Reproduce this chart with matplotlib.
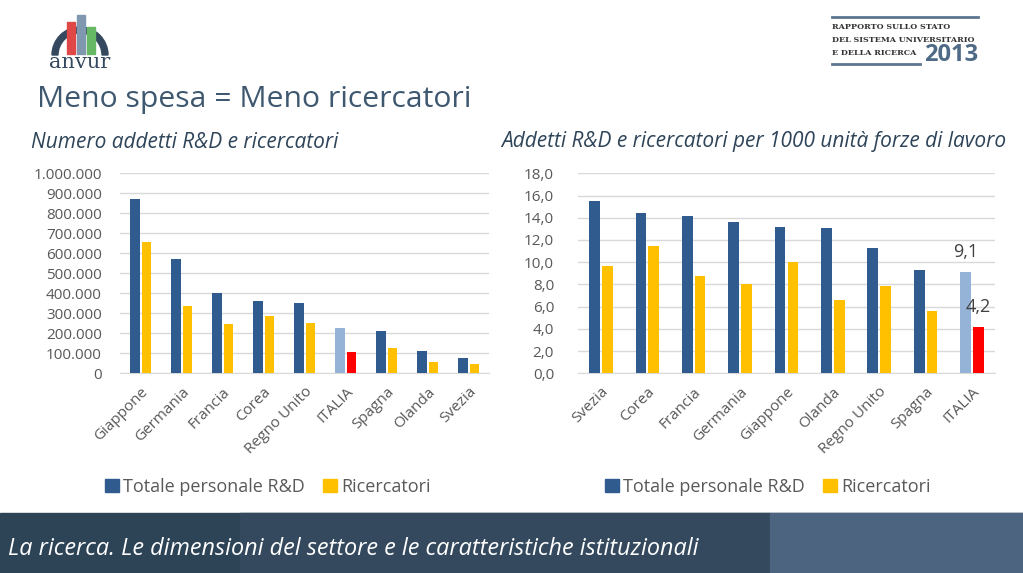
import numpy as np
import matplotlib.pyplot as plt
from matplotlib.patches import Rectangle, Wedge
from matplotlib.ticker import FuncFormatter

# left chart: absolute numbers
paesi_sx = ['Giappone', 'Germania', 'Francia', 'Corea', 'Regno Unito',
            'ITALIA', 'Spagna', 'Olanda', 'Svezia']
totale_sx = [870000, 573000, 400000, 360000, 353000, 227000, 212000, 113000, 75000]
ricerc_sx = [656000, 337000, 247000, 287000, 250000, 105000, 128000, 57000, 45000]

# right chart: per 1000 labour force
paesi_dx = ['Svezia', 'Corea', 'Francia', 'Germania', 'Giappone', 'Olanda',
            'Regno Unito', 'Spagna', 'ITALIA']
totale_dx = [15.5, 14.4, 14.2, 13.6, 13.2, 13.1, 11.3, 9.3, 9.1]
ricerc_dx = [9.7, 11.5, 8.8, 8.0, 10.0, 6.6, 7.9, 5.6, 4.2]

BLU = '#2f5b8e'
GIALLO = '#ffc000'
AZZURRO = '#95b3d7'
ROSSO = '#ff0000'
SCURO = '#2e4459'
GRIGIO = '#595959'

plt.rcParams['font.family'] = ['Open Sans', 'DejaVu Sans']

fig = plt.figure(figsize=(10.23, 5.73), dpi=100)
W, H = 1023, 573


def box(x0, y0, x1, y1):
    # pixel coords (top-left origin) -> figure fraction rect
    return [x0 / W, 1 - y1 / H, (x1 - x0) / W, (y1 - y0) / H]


def draw_bars(ax, paesi, totale, ricerc, ymax, step, fmt, ypad):
    x = np.arange(len(paesi))
    c1 = [AZZURRO if p == 'ITALIA' else BLU for p in paesi]
    c2 = [ROSSO if p == 'ITALIA' else GIALLO for p in paesi]
    ax.bar(x - 0.135, totale, width=0.23, color=c1, zorder=3)
    ax.bar(x + 0.14, ricerc, width=0.23, color=c2, zorder=3)
    ax.set_xlim(-0.5, len(paesi) - 0.5)
    ax.set_ylim(0, ymax)
    ax.set_yticks(np.arange(0, ymax + step / 2, step))
    ax.yaxis.set_major_formatter(FuncFormatter(fmt))
    ax.grid(axis='y', color='#d9d9d9', linewidth=1, zorder=0)
    for s in ['top', 'right', 'left']:
        ax.spines[s].set_visible(False)
    ax.spines['bottom'].set_color('#d9d9d9')
    ax.tick_params(length=0, labelsize=11, labelcolor=GRIGIO)
    ax.tick_params(axis='y', pad=ypad)
    ax.set_xticks(x)
    ax.set_xticklabels(paesi, rotation=45, ha='right', rotation_mode='anchor')
    ax.tick_params(axis='x', pad=8)


ax1 = fig.add_axes(box(120, 173.3, 489, 373.3))
draw_bars(ax1, paesi_sx, totale_sx, ricerc_sx, 1000000, 100000,
          lambda v, p: f'{int(v):,}'.replace(',', '.'), 13)

ax2 = fig.add_axes(box(577.7, 173.3, 995, 373.3))
draw_bars(ax2, paesi_dx, totale_dx, ricerc_dx, 18, 2,
          lambda v, p: f'{v:.1f}'.replace('.', ','), 17)
i_it = paesi_dx.index('ITALIA')
ax2.annotate(f'{totale_dx[i_it]:.1f}'.replace('.', ','), (i_it - 0.135, totale_dx[i_it]),
             xytext=(0, 8), textcoords='offset points', ha='center', va='bottom',
             fontsize=13, color='#404040', zorder=5)
ax2.annotate(f'{ricerc_dx[i_it]:.1f}'.replace('.', ','), (i_it + 0.14, ricerc_dx[i_it]),
             xytext=(0, 8), textcoords='offset points', ha='center', va='bottom',
             fontsize=13, color='#404040', zorder=5)

# legends
for xc in [268, 768]:
    h1 = Rectangle((0, 0), 1, 1, color=BLU)
    h2 = Rectangle((0, 0), 1, 1, color=GIALLO)
    fig.legend([h1, h2], ['Totale personale R&D', 'Ricercatori'],
               loc='center', bbox_to_anchor=(xc / W, 1 - 487 / H), ncol=2,
               frameon=False, fontsize=13, handlelength=0.75, handleheight=0.75,
               handletextpad=0.25, columnspacing=1.0, labelcolor=GRIGIO)

# titles
fig.text(37 / W, 1 - 100 / H, 'Meno spesa = Meno ricercatori', fontsize=21.7,
         color='#3e5870', va='center', ha='left')
fig.text(31 / W, 1 - 142 / H, 'Numero addetti R&D e ricercatori', fontsize=15,
         style='italic', color=SCURO, va='center')
fig.text(501 / W, 1 - 142 / H, 'Addetti R&D e ricercatori per 1000 unità forze di lavoro',
         fontsize=15, style='italic', color=SCURO, va='center')

# logo anvur
lg = fig.add_axes(box(40, 10, 120, 75))
lg.set_xlim(40, 120)
lg.set_ylim(75, 10)
lg.axis('off')
lg.add_patch(Wedge((80, 55), 28, 180, 360, width=6, color='#34495e'))
lg.add_patch(Rectangle((67, 22), 8, 32, color='#e04848'))
lg.add_patch(Rectangle((77, 15), 8, 39, color='#7f98b0'))
lg.add_patch(Rectangle((87, 27), 8, 27, color='#66b865'))
lg.text(80, 63, 'anvur', fontsize=15, color='#34495e', ha='center', va='center',
        family='DejaVu Serif')

# top right header
hd = fig.add_axes(box(825, 10, 985, 72))
hd.set_xlim(825, 985)
hd.set_ylim(72, 10)
hd.axis('off')
hd.plot([832, 978], [17, 17], color='#5c7590', lw=2)
hd.plot([832, 920], [64, 64], color='#5c7590', lw=2)
for yy, t in [(27, 'RAPPORTO SULLO STATO'), (40, 'DEL SISTEMA UNIVERSITARIO'),
              (53, 'E DELLA RICERCA')]:
    hd.text(832, yy, t, fontsize=5.8, color='#333333', family='DejaVu Serif',
            fontweight='bold', va='center')
hd.text(978, 55, '2013', fontsize=17, color='#4f6a86', ha='right', va='center',
        fontweight='bold')

# footer band
fig.patches.append(Rectangle((0, 0), 1, 60 / H, transform=fig.transFigure,
                             color='#2d4356', zorder=0))
fig.patches.append(Rectangle((240 / W, 0), 530 / W, 60 / H, transform=fig.transFigure,
                             color='#34495d', zorder=0))
fig.patches.append(Rectangle((770 / W, 0), 253 / W, 60 / H, transform=fig.transFigure,
                             color='#4c6480', zorder=0))
fig.text(8 / W, 1 - 549 / H,
         'La ricerca. Le dimensioni del settore e le caratteristiche istituzionali',
         fontsize=16.8, style='italic', color='white', va='center')

fig.savefig('out.png', dpi=100)
